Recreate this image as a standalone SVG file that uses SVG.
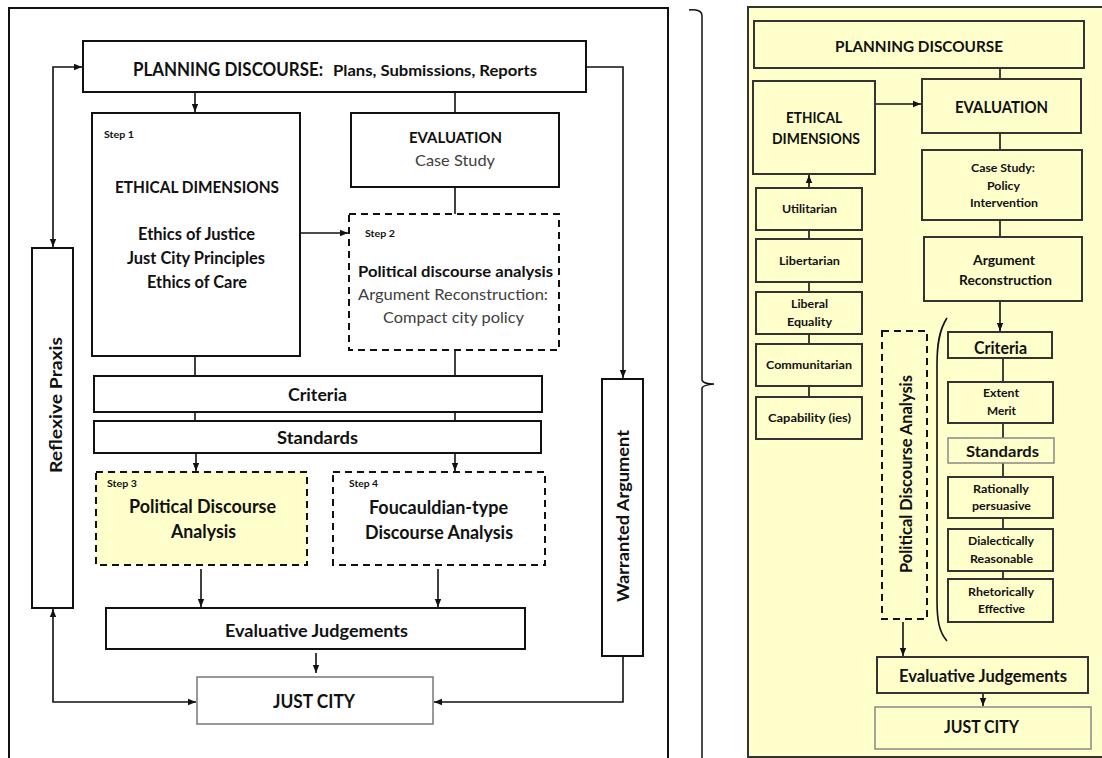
<svg xmlns="http://www.w3.org/2000/svg" width="1102" height="758" viewBox="0 0 1102 758">
  <defs>
    <style>
      text { font-family: Lato, "Liberation Sans", sans-serif; font-weight: bold; fill: #111; }
      .reg { font-weight: normal; fill: #404040; }
      .box { fill: #fff; stroke: #111; stroke-width: 2; }
      .thin { fill: #fff; stroke: #777; stroke-width: 1.5; }
      .dash { fill: #fff; stroke: #111; stroke-width: 2; stroke-dasharray: 7 5; }
      .ybox { fill: #FFFFCC; stroke: #333; stroke-width: 2; }
      .ythin { fill: #FFFFCC; stroke: #888; stroke-width: 1.5; }
      .ydash { fill: #FFFFCC; stroke: #111; stroke-width: 2; stroke-dasharray: 7 5; }
      .step { font-size: 8.5px; }
      .ln { fill: none; stroke: #111; stroke-width: 1.6; }
    </style>
    <marker id="ah" viewBox="0 0 8 8" refX="8" refY="4" markerWidth="8" markerHeight="8" markerUnits="userSpaceOnUse" orient="auto-start-reverse">
      <path d="M0,0.8 L8,4 L0,7.2 z" fill="#111"/>
    </marker>
  </defs>

  <!-- left framework -->
  <path d="M9,758 V8 H668 V758" fill="none" stroke="#111" stroke-width="2"/>

  <!-- brace -->
  <path d="M689,10 C697,9 702,11 702,16 V380 Q703,384 714,384 Q703,385 702,388 V758" fill="none" stroke="#111" stroke-width="1.5"/>

  <!-- right panel -->
  <rect x="748" y="7" width="360" height="750" fill="#FFFFCC" stroke="#333" stroke-width="2"/>

  <g id="connectors">
    <!-- left -->
    <path class="ln" d="M195,92 V112" marker-end="url(#ah)"/>
    <path class="ln" d="M455,92 V113"/>
    <path class="ln" d="M455,187 V214"/>
    <path class="ln" d="M300,233 H348" marker-end="url(#ah)"/>
    <path class="ln" d="M195,356 V376"/>
    <path class="ln" d="M455,350 V376"/>
    <path class="ln" d="M195,412 V421"/>
    <path class="ln" d="M455,412 V421"/>
    <path class="ln" d="M196,453 V471" marker-end="url(#ah)"/>
    <path class="ln" d="M455,453 V471" marker-end="url(#ah)"/>
    <path class="ln" d="M201,569 V607" marker-end="url(#ah)"/>
    <path class="ln" d="M438,569 V607" marker-end="url(#ah)"/>
    <path class="ln" d="M316,653 V673" marker-end="url(#ah)"/>
    <path class="ln" d="M82,67 H53 V247" marker-start="url(#ah)" marker-end="url(#ah)"/>
    <path class="ln" d="M53,609 V702 H196" marker-start="url(#ah)" marker-end="url(#ah)"/>
    <path class="ln" d="M586,67 H623 V378" marker-end="url(#ah)"/>
    <path class="ln" d="M623,656 V702 H434" marker-end="url(#ah)"/>
    <!-- right -->
    <path class="ln" d="M1000,68 V79"/>
    <path class="ln" d="M875,104 H921" marker-end="url(#ah)"/>
    <path class="ln" d="M1000,133 V150"/>
    <path class="ln" d="M1000,220 V237"/>
    <path class="ln" d="M1000,301 V331" marker-end="url(#ah)"/>
    <path class="ln" d="M1003,358 V382"/>
    <path class="ln" d="M1003,423 V438"/>
    <path class="ln" d="M1003,463 V477"/>
    <path class="ln" d="M1003,518 V529"/>
    <path class="ln" d="M1003,571 V579"/>
    <path class="ln" d="M809,188 V175" marker-end="url(#ah)"/>
    <path class="ln" d="M809,230 V239"/>
    <path class="ln" d="M809,282 V292"/>
    <path class="ln" d="M809,334 V344"/>
    <path class="ln" d="M809,386 V397"/>
    <path class="ln" d="M903,622 V656" marker-end="url(#ah)"/>
    <path class="ln" d="M983,693 V706" marker-end="url(#ah)"/>
    <!-- bracket grouping the criteria and standards -->
    <path class="ln" d="M947,318 C939,330 937,345 937,365 V600 C937,620 939,632 947,641" stroke-width="1.4"/>
  </g>

  <!-- ===== left diagram nodes ===== -->
  <g id="planning">
    <rect class="box" x="83" y="41" width="503" height="51"/>
    <text x="133" y="76" font-size="18" textLength="190" lengthAdjust="spacingAndGlyphs">PLANNING DISCOURSE:</text>
    <text x="333" y="76" font-size="16" textLength="204" lengthAdjust="spacingAndGlyphs">Plans, Submissions, Reports</text>
  </g>
  <g id="ethical">
    <rect class="box" x="92" y="113" width="208" height="243"/>
    <text class="step" x="104" y="138" textLength="30" lengthAdjust="spacingAndGlyphs">Step 1</text>
    <text x="115" y="193" font-size="17.5" textLength="164" lengthAdjust="spacingAndGlyphs">ETHICAL DIMENSIONS</text>
    <text x="138" y="240" font-size="16.5" textLength="117" lengthAdjust="spacingAndGlyphs">Ethics of Justice</text>
    <text x="127" y="264" font-size="16.5" textLength="138" lengthAdjust="spacingAndGlyphs">Just City Principles</text>
    <text x="147" y="288" font-size="16.5" textLength="100" lengthAdjust="spacingAndGlyphs">Ethics of Care</text>
  </g>
  <g id="evaluation">
    <rect class="box" x="351" y="113" width="208" height="74"/>
    <text x="409" y="143" font-size="16" textLength="93" lengthAdjust="spacingAndGlyphs">EVALUATION</text>
    <text class="reg" x="415" y="166" font-size="16" textLength="80" lengthAdjust="spacingAndGlyphs">Case Study</text>
  </g>
  <g id="step2">
    <rect class="dash" x="349" y="214" width="210" height="136"/>
    <text class="step" x="365" y="237" textLength="30" lengthAdjust="spacingAndGlyphs">Step 2</text>
    <text x="358" y="277" font-size="16" textLength="195" lengthAdjust="spacingAndGlyphs">Political discourse analysis</text>
    <text class="reg" x="358" y="300" font-size="16" textLength="190" lengthAdjust="spacingAndGlyphs">Argument Reconstruction:</text>
    <text class="reg" x="383" y="323" font-size="16" textLength="141" lengthAdjust="spacingAndGlyphs">Compact city policy</text>
  </g>
  <g id="criteria">
    <rect class="box" x="94" y="376" width="448" height="36"/>
    <text x="288" y="401" font-size="16.5" textLength="59" lengthAdjust="spacingAndGlyphs">Criteria</text>
  </g>
  <g id="standards">
    <rect class="box" x="94" y="421" width="447" height="32"/>
    <text x="277" y="444" font-size="16.5" textLength="81" lengthAdjust="spacingAndGlyphs">Standards</text>
  </g>
  <g id="step3">
    <rect class="ydash" x="96" y="472" width="211" height="93"/>
    <text class="step" x="107" y="487" textLength="30" lengthAdjust="spacingAndGlyphs">Step 3</text>
    <text x="129" y="513" font-size="18" textLength="147" lengthAdjust="spacingAndGlyphs">Political Discourse</text>
    <text x="171" y="538" font-size="18" textLength="65" lengthAdjust="spacingAndGlyphs">Analysis</text>
  </g>
  <g id="step4">
    <rect class="dash" x="333" y="472" width="212" height="93"/>
    <text class="step" x="349" y="487" textLength="29" lengthAdjust="spacingAndGlyphs">Step 4</text>
    <text x="369" y="514" font-size="18" textLength="139" lengthAdjust="spacingAndGlyphs">Foucauldian-type</text>
    <text x="365" y="539" font-size="18" textLength="148" lengthAdjust="spacingAndGlyphs">Discourse Analysis</text>
  </g>
  <g id="judgements">
    <rect class="box" x="106" y="608" width="419" height="41"/>
    <text x="225" y="637" font-size="16.5" textLength="183" lengthAdjust="spacingAndGlyphs">Evaluative Judgements</text>
  </g>
  <g id="justcity">
    <rect class="thin" x="197" y="677" width="236" height="47"/>
    <text x="273" y="708" font-size="18.5" textLength="82" lengthAdjust="spacingAndGlyphs">JUST CITY</text>
  </g>
  <g id="reflexive">
    <rect class="box" x="32" y="248" width="41" height="360"/>
    <text transform="translate(62,405) rotate(-90)" x="0" y="0" text-anchor="middle" font-size="17.5" textLength="136" lengthAdjust="spacingAndGlyphs">Reflexive Praxis</text>
  </g>
  <g id="warranted">
    <rect class="box" x="602" y="379" width="41" height="277"/>
    <text transform="translate(629,516) rotate(-90)" x="0" y="0" text-anchor="middle" font-size="17.5" textLength="172" lengthAdjust="spacingAndGlyphs">Warranted Argument</text>
  </g>

  <!-- ===== right diagram nodes ===== -->
  <g id="r-planning">
    <rect class="ybox" x="754" y="21" width="330" height="47"/>
    <text x="835" y="52" font-size="15.5" textLength="168" lengthAdjust="spacingAndGlyphs">PLANNING DISCOURSE</text>
  </g>
  <g id="r-evaluation">
    <rect class="ybox" x="922" y="79" width="159" height="54"/>
    <text x="955" y="113" font-size="17.5" textLength="93" lengthAdjust="spacingAndGlyphs">EVALUATION</text>
  </g>
  <g id="r-ethical">
    <rect class="ybox" x="753" y="81" width="122" height="93"/>
    <text x="786" y="123" font-size="15.5" textLength="56" lengthAdjust="spacingAndGlyphs">ETHICAL</text>
    <text x="772" y="144" font-size="15.5" textLength="88" lengthAdjust="spacingAndGlyphs">DIMENSIONS</text>
  </g>
  <g id="r-casestudy">
    <rect class="ybox" x="922" y="150" width="160" height="70"/>
    <text x="971" y="172" font-size="12" textLength="64" lengthAdjust="spacingAndGlyphs">Case Study:</text>
    <text x="987" y="190" font-size="12" textLength="33" lengthAdjust="spacingAndGlyphs">Policy</text>
    <text x="970" y="207" font-size="12" textLength="68" lengthAdjust="spacingAndGlyphs">Intervention</text>
  </g>
  <g id="r-argument">
    <rect class="ybox" x="924" y="237" width="158" height="64"/>
    <text x="973" y="265" font-size="13" textLength="62" lengthAdjust="spacingAndGlyphs">Argument</text>
    <text x="959" y="285" font-size="13" textLength="93" lengthAdjust="spacingAndGlyphs">Reconstruction</text>
  </g>
  <g id="r-criteria">
    <rect class="ybox" x="948" y="332" width="104" height="26"/>
    <text x="974" y="354" font-size="16.5" textLength="53" lengthAdjust="spacingAndGlyphs">Criteria</text>
  </g>
  <g id="r-extent">
    <rect class="ybox" x="948" y="382" width="105" height="41"/>
    <text x="983" y="397" font-size="12" textLength="36" lengthAdjust="spacingAndGlyphs">Extent</text>
    <text x="987" y="415" font-size="12" textLength="29" lengthAdjust="spacingAndGlyphs">Merit</text>
  </g>
  <g id="r-standards">
    <rect class="ythin" x="948" y="438" width="106" height="25"/>
    <text x="966" y="457" font-size="16" textLength="73" lengthAdjust="spacingAndGlyphs">Standards</text>
  </g>
  <g id="r-rational">
    <rect class="ybox" x="948" y="477" width="105" height="41"/>
    <text x="973" y="493" font-size="12" textLength="56" lengthAdjust="spacingAndGlyphs">Rationally</text>
    <text x="972" y="510" font-size="12" textLength="59" lengthAdjust="spacingAndGlyphs">persuasive</text>
  </g>
  <g id="r-dialectical">
    <rect class="ybox" x="948" y="529" width="105" height="42"/>
    <text x="968" y="545" font-size="12" textLength="66" lengthAdjust="spacingAndGlyphs">Dialectically</text>
    <text x="970" y="563" font-size="12" textLength="63" lengthAdjust="spacingAndGlyphs">Reasonable</text>
  </g>
  <g id="r-rhetorical">
    <rect class="ybox" x="948" y="579" width="105" height="43"/>
    <text x="968" y="596" font-size="12" textLength="66" lengthAdjust="spacingAndGlyphs">Rhetorically</text>
    <text x="978" y="613" font-size="12" textLength="47" lengthAdjust="spacingAndGlyphs">Effective</text>
  </g>
  <g id="r-utilitarian">
    <rect class="ybox" x="756" y="188" width="106" height="42"/>
    <text x="782" y="213" font-size="11.5" textLength="55" lengthAdjust="spacingAndGlyphs">Utilitarian</text>
  </g>
  <g id="r-libertarian">
    <rect class="ybox" x="756" y="239" width="106" height="43"/>
    <text x="779" y="265" font-size="11.5" textLength="61" lengthAdjust="spacingAndGlyphs">Libertarian</text>
  </g>
  <g id="r-liberal">
    <rect class="ybox" x="756" y="292" width="106" height="42"/>
    <text x="791" y="308" font-size="11.5" textLength="37" lengthAdjust="spacingAndGlyphs">Liberal</text>
    <text x="787" y="326" font-size="11.5" textLength="45" lengthAdjust="spacingAndGlyphs">Equality</text>
  </g>
  <g id="r-communitarian">
    <rect class="ybox" x="756" y="344" width="106" height="42"/>
    <text x="766" y="369" font-size="11.5" textLength="86" lengthAdjust="spacingAndGlyphs">Communitarian</text>
  </g>
  <g id="r-capability">
    <rect class="ybox" x="756" y="397" width="106" height="42"/>
    <text x="768" y="422" font-size="11.5" textLength="83" lengthAdjust="spacingAndGlyphs">Capability (ies)</text>
  </g>
  <g id="r-pda">
    <rect class="ydash" x="882" y="331" width="45" height="288"/>
    <text transform="translate(912,474) rotate(-90)" x="0" y="0" text-anchor="middle" font-size="17.5" textLength="198" lengthAdjust="spacingAndGlyphs">Political Discourse Analysis</text>
  </g>
  <g id="r-judgements">
    <rect class="ybox" x="877" y="657" width="211" height="36"/>
    <text x="899" y="682" font-size="16.5" textLength="168" lengthAdjust="spacingAndGlyphs">Evaluative Judgements</text>
  </g>
  <g id="r-justcity">
    <rect class="ythin" x="875" y="707" width="216" height="42"/>
    <text x="944" y="733" font-size="16.5" textLength="75" lengthAdjust="spacingAndGlyphs">JUST CITY</text>
  </g>
</svg>
